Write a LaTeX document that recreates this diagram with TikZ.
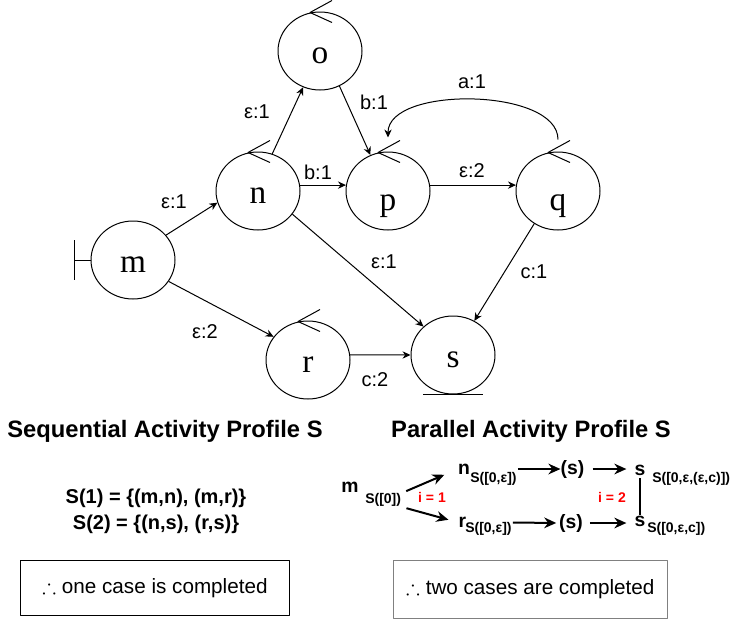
\documentclass[tikz,border=0pt]{standalone}
\usepackage{amssymb}
\usepackage{fontspec}
\setmainfont{Liberation Sans}
\newfontfamily\statefont{Liberation Serif}
\usetikzlibrary{shapes.geometric,arrows.meta,positioning}

\tikzset{
  state/.style={ellipse,draw,line width=.75pt,minimum width=63pt,minimum height=58.5pt,
    inner sep=0pt,text height=18.8pt,text depth=0pt,font=\statefont\fontsize{25}{25}\selectfont},
  low/.style={text height=28.5pt},
  trans/.style={line width=.75pt,-{Stealth[length=6pt,width=5.5pt]}},
  lbl/.style={font=\fontsize{15}{17}\selectfont,inner sep=0pt},
  head/.style={font=\bfseries\fontsize{17.8}{20}\selectfont,inner sep=0pt},
  setline/.style={font=\bfseries\fontsize{15}{18}\selectfont,inner sep=0pt},
  casebox/.style={draw,line width=.75pt,minimum width=202pt,minimum height=41.5pt,
    font=\fontsize{15.5}{18}\selectfont},
  ltr/.style={font=\bfseries\fontsize{14.5}{17}\selectfont,inner sep=0pt},
  sub/.style={font=\bfseries\fontsize{10.5}{12}\selectfont,inner sep=0pt,anchor=west},
  iter/.style={font=\bfseries\fontsize{10.5}{12}\selectfont,inner sep=0pt,text=red},
  big/.style={line width=1.5pt,-{Stealth[length=9pt,width=8pt]}}
}

\begin{document}
\begin{tikzpicture}[x=.75pt,y=-.75pt,line join=round] % activity profiles
        \useasboundingbox (0,0) rectangle (742,622);
        % states
        \node[state] (m) at (133,260) {m};
        \node[state] (n) at (258,191) {n};
        \node[state] (o) at (320,51) {o};
        \node[state,low] (p) at (388,191) {p};
        \node[state,low] (q) at (558,191) {q};
        \node[state] (r) at (308,360) {r};
        \node[state] (s) at (453,355) {s};
        \foreach \v in {o,n,p,q,r}
                \draw[line width=.75pt] ([shift={(12,-11)}]\v.north) -- ([shift={(-10,1)}]\v.north) -- ([shift={(12,11)}]\v.north);
        \draw[line width=.75pt] (m.west) -- ++(-16,0) coordinate (m0);
        \draw[line width=.75pt] ([yshift=15pt]m0) -- ([yshift=-15pt]m0);
        \draw[line width=.75pt] ([xshift=-22.5pt]s.south) -- ([xshift=22.5pt]s.south);
        % transitions
        \draw[trans] (m.37) -- (n.196);
        \draw[trans] (m.-31) -- (r.146);
        \draw[trans] (n.69) -- (o.245);
        \draw[trans] (o.-61) -- (p.116);
        \draw[trans] (n.8) -- (p.172);
        \draw[trans] (p.8) -- (q.172);
        \draw[trans] ([yshift=9pt]q.north) to[out=90,in=90,looseness=.78] ([yshift=10.5pt]p.north);
        \draw[trans] (q.234) -- (s.58);
        \draw[trans] (n.-34) -- (s.136);
        \draw[trans] (r.7) -- (s.west);
        \node[lbl] (lmn) at (174,202) {ε:1};
        \node[lbl] (lmr) at (205,332) {ε:2};
        \node[lbl] (lno) at (257,112) {ε:1};
        \node[lbl] (lnp) at (318,172) {b:1};
        \node[lbl] (lop) at (374,102) {b:1};
        \node[lbl] (lpq) at (472,171) {ε:2};
        \node[lbl] (lqp) at (472,82) {a:1};
        \node[lbl] (lqs) at (534,272) {c:1};
        \node[lbl] (lns) at (384,262) {ε:1};
        \node[lbl] (lrs) at (375,380) {c:2};
        % sequential profile
        \node[head] (seqt) at (165,431) {Sequential Activity Profile S};
        \node[setline] (s1) at (156,498) {S(1) = \{(m,n), (m,r)\}};
        \node[setline] (s2) at (156,524) {S(2) = \{(n,s), (r,s)\}};
        \node[casebox] (onecase) at (155,588) {$\therefore$ one case is completed};
        % parallel profile
        \node[head] (part) at (531,431) {Parallel Activity Profile S};
        \node[ltr] (pm) at (350,487.5) {m};
        \node[sub] (msub) at (365,500) {S([0])};
        \node[ltr] (pn) at (464,469) {n};
        \node[sub] (nsub) at (470,479) {S([0,ε])};
        \node[ltr] (pr) at (462.5,522.5) {r};
        \node[sub] (rsub) at (465,528.5) {S([0,ε])};
        \node[ltr] (ps1) at (572.5,469) {(s)};
        \node[ltr] (ps2) at (571,523) {(s)};
        \node[ltr] (pst) at (640,470) {s};
        \node[sub] (stsub) at (652,479) {S([0,ε,(ε,c)])};
        \node[ltr] (psb) at (640,521.7) {s};
        \node[sub] (sbsub) at (647,529) {S([0,ε,c])};
        \node[iter] (i1) at (432,497) {i = 1};
        \node[iter] (i2) at (612,497) {i = 2};
        \draw[big,shorten <=4pt,shorten >=11pt] (msub.north east) -- (pn.west);
        \draw[big,shorten <=4pt,shorten >=7.8pt] (msub.south east) -- (pr.west);
        \draw[big,shorten <=.75pt] (nsub.east |- pn) -- (ps1.west);
        \draw[big,shorten <=6pt,shorten >=6pt] (ps1.east) -- (ps1 -| pst.west);
        \draw[big,shorten <=.75pt,shorten >=2pt] (rsub.east |- pr) -- (ps2.west);
        \draw[big,shorten <=5pt,shorten >=6pt] (ps2.east) -- (ps2 -| psb.west);
        \draw[line width=1.5pt,shorten <=2pt,shorten >=1pt] (pst) -- (psb);
        \node[casebox,draw=black!50,line width=1pt,minimum width=205.5pt,minimum height=43.2pt] (twocase) at (530.3,589.5) {$\therefore$ two cases are completed};
\end{tikzpicture}
\end{document}
